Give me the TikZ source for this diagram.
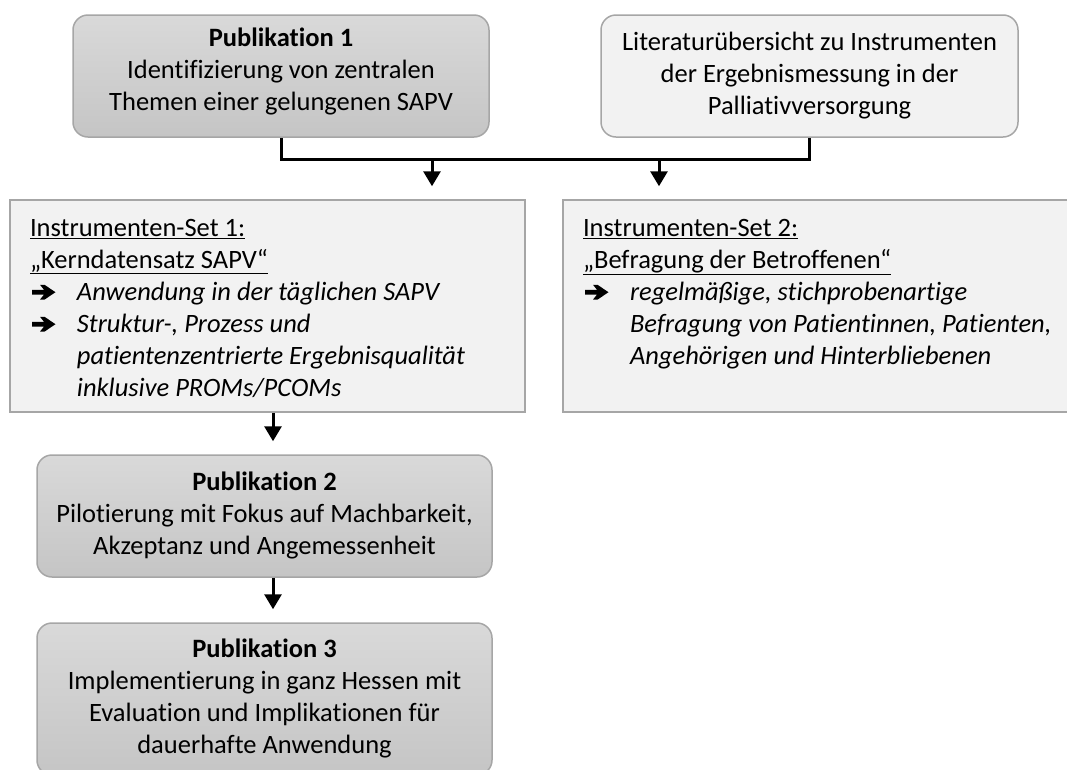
\documentclass[tikz,border=0pt]{standalone}
\usepackage{fontspec}
\setmainfont{Carlito}[Ligatures=NoCommon]
\usetikzlibrary{arrows.meta}
\definecolor{boxline}{HTML}{A6A6A6}
\definecolor{pubtop}{HTML}{D9D9D9}
\definecolor{pubbot}{HTML}{C5C5C5}
\definecolor{lightfill}{HTML}{F2F2F2}
\newcommand{\bularrow}{\tikz[x=1pt,y=1pt,baseline=0pt]\fill[black] (0,5.6) -- (12,5.6) -- (8,0.6) -- (12.5,0.6) -- (23.5,8) -- (12.5,15.4) -- (8,15.4) -- (12,10.4) -- (0,10.4) -- cycle;}
\newcommand{\bul}{\makebox[47pt][l]{\hspace*{2pt}\bularrow}}
\newcommand{\ind}{\hspace*{47pt}}
\newcommand{\normsp}{\spaceskip=0pt\xspaceskip=0pt\relax}
\newcommand{\topstrut}{\rule{0pt}{30pt}}
\newcommand{\botstrut}{\rule[-17.6pt]{0pt}{0pt}}
\begin{document}
\begin{tikzpicture}[x=1pt,y=-1pt,
  pubbox/.style={draw=boxline, line width=1.5pt, rounded corners=15pt,
    top color=pubtop, bottom color=pubbot, align=center, inner sep=0pt,
    font=\fontsize{26.5}{32}\selectfont},
  litbox/.style={draw=boxline, line width=1.5pt, rounded corners=15pt,
    fill=lightfill, align=center, inner sep=0pt,
    font=\fontsize{26.5}{32}\selectfont},
  setbox/.style={draw=boxline, line width=1.5pt, fill=lightfill,
    align=left, inner xsep=20pt, inner ysep=0pt,
    font=\fontsize{26.5}{32}\selectfont},
  conn/.style={line width=3pt, line join=miter},
  arr/.style={line width=3pt, -{Triangle[width=17pt,length=15pt]}, shorten >=13pt}
]
\useasboundingbox (0,0) rectangle (1067,769);
\clip (0,0) rectangle (1067,769);

\node[pubbox, minimum width=416pt, minimum height=122pt] (pub1) at (281,76)
  {\strut\textbf{Publikation 1}\\Identifizierung von zentralen\\Themen einer gelungenen SAPV\botstrut};
\node[litbox, minimum width=417pt, minimum height=122pt] (lit) at (809.5,76)
  {\strut Literaturübersicht zu Instrumenten\\der Ergebnismessung in der\\Palliativversorgung\strut};

\node[setbox, text width=475pt, minimum height=212pt] (set1) at (267.5,306)
  {\normsp\topstrut\underline{Instrumenten-Set 1:}\\
   \underline{„Kerndatensatz SAPV“}\\
   \bul\textit{Anwendung in der täglichen SAPV}\\
   \bul\textit{Struktur-, Prozess und}\\
   \ind\textit{patientenzentrierte Ergebnisqualität}\\
   \ind\textit{inklusive PROMs/PCOMs}\strut};
\node[setbox, text width=500pt, minimum height=212pt] (set2) at (833,306)
  {\normsp\topstrut\underline{Instrumenten-Set 2:}\\
   \underline{„Befragung der Betroffenen“}\\
   \bul\textit{regelmäßige, stichprobenartige}\\
   \ind\textit{Befragung von Patientinnen, Patienten,}\\
   \ind\textit{Angehörigen und Hinterbliebenen}\\
   \strut};

\node[pubbox, minimum width=455pt, minimum height=122pt] (pub2) at (264.5,516)
  {\strut\textbf{Publikation 2}\\Pilotierung mit Fokus auf Machbarkeit,\\Akzeptanz und Angemessenheit\strut};
\node[pubbox, minimum width=455pt, minimum height=152pt] (pub3) at (264.5,699)
  {\strut\textbf{Publikation 3}\\Implementierung in ganz Hessen mit\\Evaluation und Implikationen für\\dauerhafte Anwendung\strut};

\coordinate (hy) at (0,159);
\coordinate (a1) at (432,159);
\coordinate (a2) at (659,159);
\coordinate (vx) at (273,0);

\draw[conn] (pub1.south) -- (pub1.south |- hy) -- (lit.south |- hy) -- (lit.south);
\draw[arr] (a1) -- (a1 |- set1.north);
\draw[arr] (a2) -- (a2 |- set2.north);
\draw[arr] (set1.south -| vx) -- (pub2.north -| vx);
\draw[arr] (pub2.south -| vx) -- (pub3.north -| vx);
\end{tikzpicture}
\end{document}
